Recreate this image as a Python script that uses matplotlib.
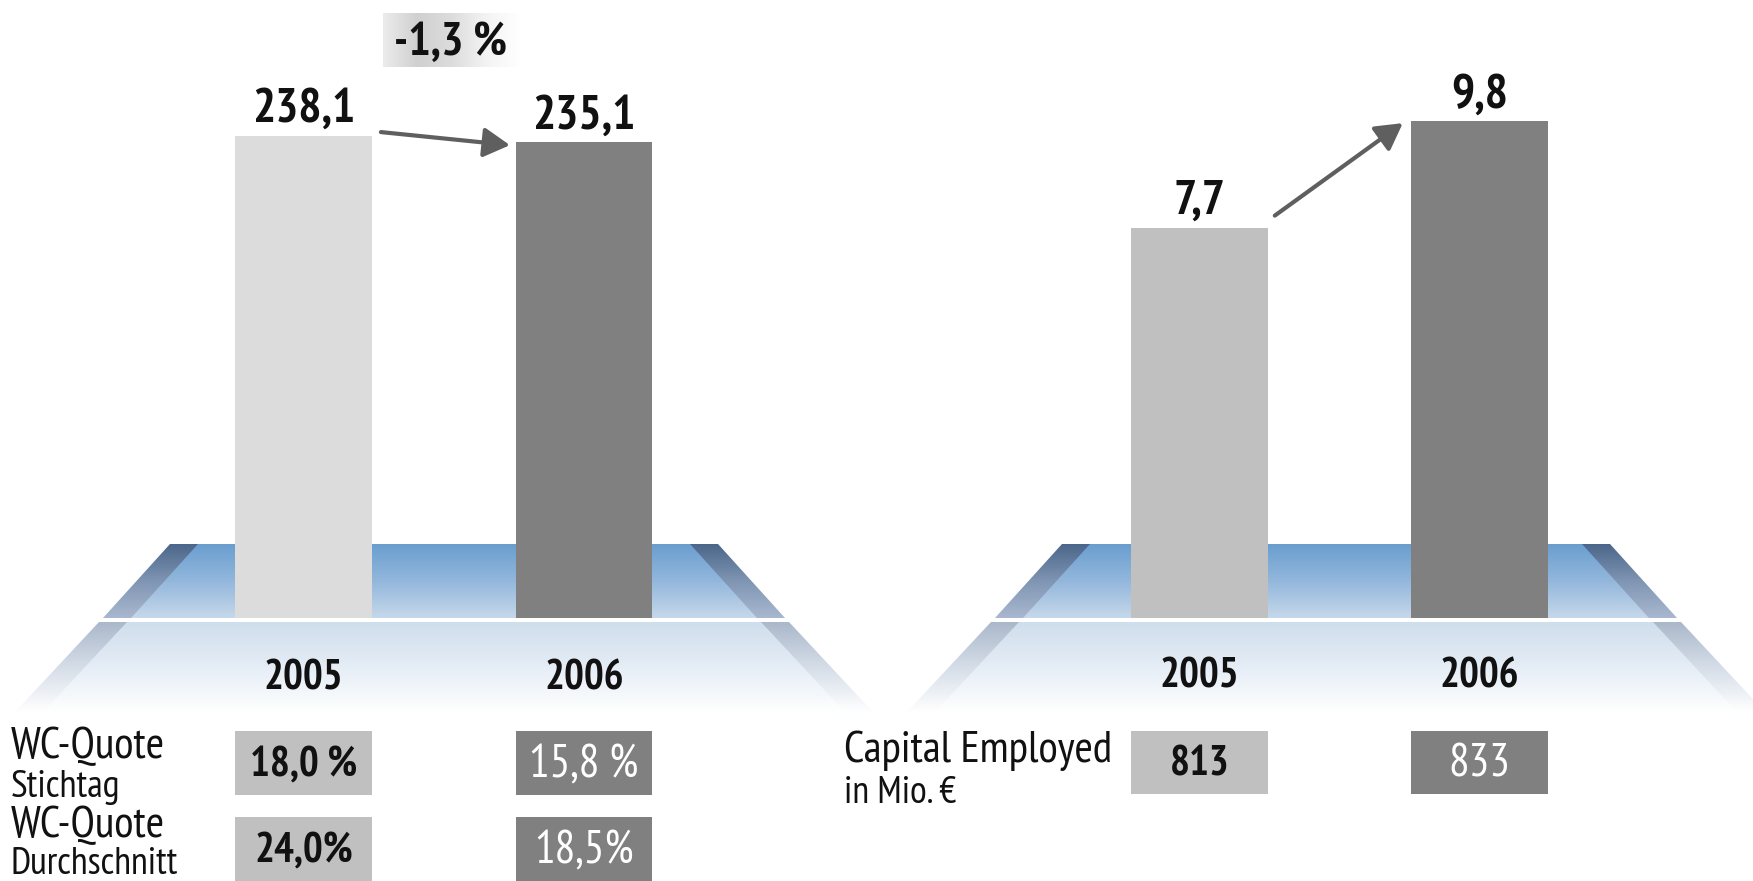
import numpy as np
import matplotlib
matplotlib.use('Agg')
import matplotlib.pyplot as plt
import matplotlib.transforms as mtransforms
from matplotlib.patches import Polygon, Rectangle, FancyArrowPatch
from matplotlib.colors import LinearSegmentedColormap

plt.rcParams['font.family'] = ['PT Sans Narrow', 'DejaVu Sans']

# Daten
years = ['2005', '2006']
wc_values = [238.1, 235.1]
wc_labels = ['238,1', '235,1']
wc_change = '-1,3 %'
roce_values = [7.7, 9.8]
roce_labels = ['7,7', '9,8']
wc_stichtag = ['18,0 %', '15,8 %']
wc_durchschnitt = ['24,0%', '18,5%']
capital_employed = ['813', '833']

W, H = 1753, 881
fig = plt.figure(figsize=(W / 100, H / 100), dpi=100)

# Hintergrund-Achse in Pixelkoordinaten
bg = fig.add_axes([0, 0, 1, 1])
bg.axis('off')


def grad_fill(ax, verts, colors, vertical=True):
    poly = Polygon(verts, closed=True, facecolor='none', edgecolor='none')
    ax.add_patch(poly)
    xs = [v[0] for v in verts]
    ys = [v[1] for v in verts]
    cmap = LinearSegmentedColormap.from_list('g', colors)
    g = np.linspace(0, 1, 256)
    g = g.reshape(-1, 1) if vertical else g.reshape(1, -1)
    im = ax.imshow(g, cmap=cmap, extent=(min(xs), max(xs), max(ys), min(ys)),
                   origin='upper', aspect='auto', interpolation='bilinear')
    im.set_clip_path(poly)


def platform(ax, cx):
    # obere Fläche (blau)
    top_l, top_r = cx - 274, cx + 274
    bot_l, bot_r = cx - 341, cx + 341
    band = 28
    grad_fill(ax, [(top_l, 544), (top_r, 544), (bot_r, 618), (bot_l, 618)],
              ['#4b668a', '#7f95b3', '#a9b8cf'])
    grad_fill(ax, [(top_l + band, 544), (top_r - band, 544),
                   (bot_r - band, 618), (bot_l + band, 618)],
              ['#6a9ecf', '#93b7dc', '#c6d8ea'])
    # untere Spiegelung
    l0, r0 = bot_l - 4, bot_r + 4
    l1, r1 = l0 - 84, r0 + 84
    grad_fill(ax, [(l0, 622), (r0, 622), (r1, 712), (l1, 712)],
              ['#aab8ca', '#d5dde8', '#ffffff'])
    grad_fill(ax, [(l0 + band, 622), (r0 - band, 622),
                   (r1 - band, 712), (l1 + band, 712)],
              ['#cfdeec', '#e5edf6', '#ffffff'])


platform(bg, 444)
platform(bg, 1336)

# "-1,3 %" Kasten
grad_fill(bg, [(383, 13), (520, 13), (520, 67), (383, 67)],
          ['#ececec', '#d0d0d0', '#dcdcdc', '#f3f3f3', '#ffffff'], vertical=False)
bg.text(451, 55, wc_change, ha='center', va='baseline', fontsize=34,
        fontweight='bold', color='#111111')

bg.set_xlim(0, W)
bg.set_ylim(H, 0)

# Balken-Achsen
base_frac = (H - 618) / H
axL = fig.add_axes([0, base_frac, 876 / W, 618 / H])
axR = fig.add_axes([876 / W, base_frac, 877 / W, 618 / H])
axL.set_xlim((0 - 303.5) / 280.5, (876 - 303.5) / 280.5)
axL.set_ylim(0, 618 / 2.024)
axR.set_xlim((876 - 1199.5) / 280, (1753 - 1199.5) / 280)
axR.set_ylim(0, 618 / 50.7)

bw = 0.488
x = np.arange(len(years))
axL.bar(x, wc_values, width=bw, color=['#dcdcdc', '#808080'])
axR.bar(x, roce_values, width=bw, color=['#c0c0c0', '#808080'])

for ax, vals, labs in [(axL, wc_values, wc_labels), (axR, roce_values, roce_labels)]:
    ax.axis('off')
    ax.patch.set_alpha(0)
    for xi, v, t in zip(x, vals, labs):
        ax.annotate(t, (xi, v), xytext=(0, 10), textcoords='offset points',
                    ha='center', va='baseline', fontsize=35, fontweight='bold',
                    color='#111111')

# Pfeile
arrow_kw = dict(arrowstyle='-|>,head_length=0.8,head_width=0.45', mutation_scale=20,
                color='#5f5f5f', lw=3, shrinkA=0, shrinkB=0)
ppuL = 2.024
axL.add_patch(FancyArrowPatch((x[0] + bw / 2 + 0.032, wc_values[0] + 4 / ppuL),
                              (x[1] - bw / 2 - 0.02, wc_values[1] - 3 / ppuL), **arrow_kw))
ppuR = 50.7
axR.add_patch(FancyArrowPatch((x[0] + bw / 2 + 0.025, roce_values[0] + 12 / ppuR),
                              (x[1] - bw / 2 - 0.03, roce_values[1] - 2 / ppuR), **arrow_kw))

# Jahreszahlen und Tabelle
box_fc = ['#c0c0c0', '#808080']
box_tc = ['#111111', '#ffffff']
box_fw = ['bold', 'normal']
box_fs = [30, 33]


def table_row(ax, y0, y1, texts):
    tr = mtransforms.blended_transform_factory(ax.transData, bg.transData)
    for xi, t in zip(x, texts):
        bg.add_patch(Rectangle((xi - bw / 2, y0), bw, y1 - y0, transform=tr,
                               facecolor=box_fc[xi], edgecolor='none'))
        bg.text(xi, (y0 + y1) / 2 + 2, t, transform=tr, ha='center', va='center',
                fontsize=box_fs[xi], fontweight=box_fw[xi], color=box_tc[xi])


for ax, yb in [(axL, 690), (axR, 687)]:
    tr = mtransforms.blended_transform_factory(ax.transData, bg.transData)
    for xi, yr in zip(x, years):
        bg.text(xi, yb, yr, transform=tr, ha='center', va='baseline',
                fontsize=30, fontweight='bold', color='#111111')

table_row(axL, 731, 795, wc_stichtag)
table_row(axL, 817, 881, wc_durchschnitt)
table_row(axR, 731, 794, capital_employed)

bg.text(11, 758, 'WC-Quote', fontsize=32, va='baseline', color='#111111')
bg.text(11, 797, 'Stichtag', fontsize=28, va='baseline', color='#111111')
bg.text(11, 837, 'WC-Quote', fontsize=32, va='baseline', color='#111111')
bg.text(11, 874, 'Durchschnitt', fontsize=27.5, va='baseline', color='#111111')
bg.text(844, 762, 'Capital Employed', fontsize=32, va='baseline', color='#111111')
bg.text(844, 803, 'in Mio. €', fontsize=27.5, va='baseline', color='#111111')

plt.savefig('out.png', dpi=100)
